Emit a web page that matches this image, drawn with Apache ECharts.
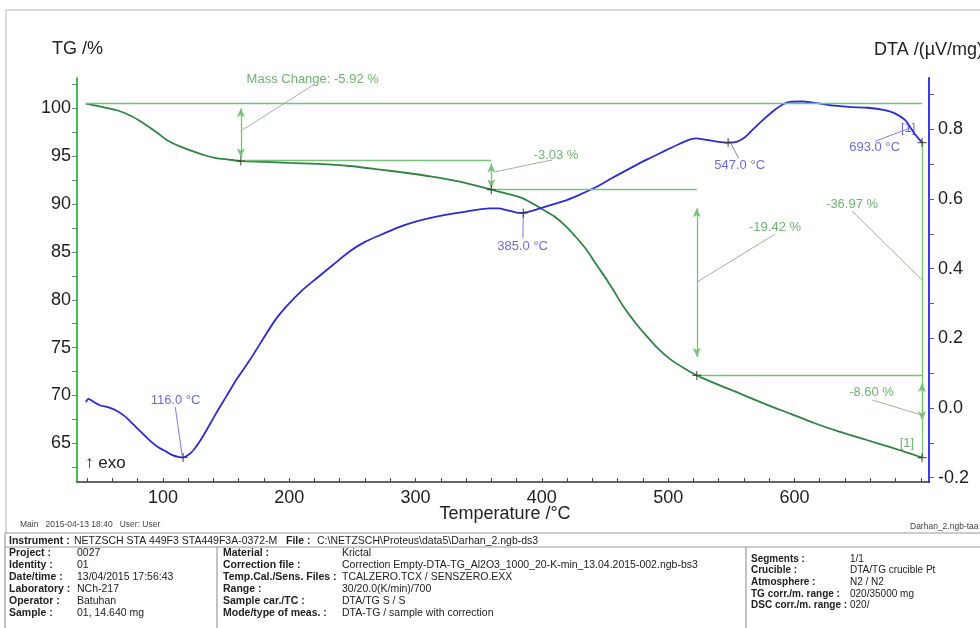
<!DOCTYPE html>
<html><head><meta charset="utf-8">
<script src="https://cdn.jsdelivr.net/npm/echarts@6/dist/echarts.min.js"></script>
<style>html,body{margin:0;padding:0;background:#fff}#c{width:980px;height:628px}</style>
</head><body><div id="c"></div>
<script>
// ---------- data ----------
const tgTemps = [39,50,63.6,75,84,95,103,114,124,133,142,152,161.7,180,200,230,250,272,290,311.6,335,360,372,385,398.6,410,419.7,428,435.5,443,451.4,458,464.6,474,483,492,501.6,512,522.7,540,557,577,596.6,616,636,656,675.8,690,701];
const tgValues = [100.5,100.2,99.8,99.2,98.5,97.5,96.7,96.0,95.5,95.1,94.8,94.65,94.5,94.42,94.3,94.15,93.95,93.6,93.3,92.9,92.35,91.5,91.1,90.6,89.6,88.7,87.6,86.4,85.2,83.7,82.1,80.7,79.3,77.6,76.2,74.9,73.8,72.9,72.1,71.1,70.2,69.1,68.1,67.1,66.2,65.4,64.6,64.0,63.5];
const dtaTemps = [39,41,45,50,57,63,70,76,83,89.5,96,103,108,113,116,120,124,129,134.5,142,150,159,168.7,182,190,197.8,210,221.5,235,248,260,271.7,287.5,298,311,324.6,340,359,366,372,380,385.3,392,398.6,410,419.7,431,443.5,456,469.8,483,496,507,517.4,523,528,538.6,547,553,561,568,576,584,590,596,605,618,631.5,645,658,671.5,679.5,687.5,691.5,695.5,698,701];
const dtaValues = [0.017,0.026,0.018,0.008,0.002,-0.007,-0.024,-0.045,-0.07,-0.093,-0.112,-0.126,-0.136,-0.141,-0.142,-0.135,-0.122,-0.097,-0.064,-0.016,0.032,0.086,0.137,0.214,0.258,0.292,0.337,0.372,0.412,0.45,0.477,0.496,0.52,0.533,0.545,0.555,0.564,0.573,0.573,0.568,0.561,0.56,0.566,0.573,0.586,0.597,0.614,0.635,0.661,0.688,0.713,0.736,0.755,0.771,0.774,0.771,0.765,0.762,0.763,0.778,0.803,0.83,0.855,0.87,0.879,0.880,0.875,0.868,0.864,0.862,0.855,0.846,0.827,0.807,0.785,0.775,0.762];

const xTickLabels = [100,200,300,400,500,600];
const xMinorTicks = [40,60,80,100,120,140,160,180,200,220,240,260,280,300,320,340,360,380,400,420,440,460,480,500,520,540,560,580,600,620,640,660,680,700];
const tgTickLabels = [65,70,75,80,85,90,95,100];
const tgMinorTicks = [62.5,65,67.5,70,72.5,75,77.5,80,82.5,85,87.5,90,92.5,95,97.5,100,102.5];
const dtaTickLabels = [-0.2,0,0.2,0.4,0.6,0.8];
const dtaMinorTicks = [-0.2,-0.1,0,0.1,0.2,0.3,0.4,0.5,0.6,0.7,0.8,0.9];

// mass-change steps: [temperature, tg]
const stepPoints = [[161.7,94.5],[360,91.5],[522.7,72.1],[701,63.5]];
const baseLines = [[[39,100.5],[701,100.5]],[[161.7,94.55],[360,94.55]],[[360,91.54],[522.7,91.54]],[[522.7,72.1],[701,72.1]]];
const stepArrows = [[[161.7,100.0],[161.7,94.9]],[[360,94.25],[360,91.65]],[[522.7,89.56],[522.7,74.04]],[[701,71.3],[701,67.4]]];
const plainVerticals = [[[701,96.6],[701,63.5]]];
const tgLeaders = [[[161.7,97.63],[220.2,102.54]],[[362,93.34],[408,94.6]],[[523.1,81.88],[584.7,86.86]],[[645.6,89.27],[701,82.06]],[[661.6,69.52],[701,67.95]]];
const tgLabels = [
  {name:'Mass Change: -5.92 %', value:[218.6,103.0]},
  {name:'-3.03 %', value:[411.2,95.12]},
  {name:'-19.42 %', value:[584.6,87.6]},
  {name:'-36.97 %', value:[645.6,90.0]},
  {name:'-8.60 %', value:[661,70.28]},
  {name:'[1]', value:[689,65.0]}
];
// DTA peaks
const peakPoints = [[116,-0.142],[385.3,0.56],[547.5,0.762],[701,0.762]];
const dtaLeaders = [[[109.8,0.003],[115.4,-0.141]],[[385,0.488],[385.3,0.56]],[[555.7,0.718],[548.7,0.766]],[[664,0.766],[691.7,0.804]]];
const dtaLabels = [
  {name:'116.0 °C', value:[110,0.022]},
  {name:'385.0 °C', value:[384.8,0.465]},
  {name:'547.0 °C', value:[556.6,0.697]},
  {name:'693.0 °C', value:[663.5,0.747]},
  {name:'[1]', value:[690,0.803]}
];

// footer table
const col1 = [['Project :','0027'],['Identity :','01'],['Date/time :','13/04/2015 17:56:43'],['Laboratory :','NCh-217'],['Operator :','Batuhan'],['Sample :','01, 14.640 mg']];
const col2 = [['Material :','Krictal'],['Correction file :','Correction Empty-DTA-TG_Al2O3_1000_20-K-min_13.04.2015-002.ngb-bs3'],['Temp.Cal./Sens. Files :','TCALZERO.TCX / SENSZERO.EXX'],['Range :','30/20.0(K/min)/700'],['Sample car./TC :','DTA/TG S / S'],['Mode/type of meas. :','DTA-TG / sample with correction']];
const col3 = [['Segments :','1/1'],['Crucible :','DTA/TG crucible Pt'],['Atmosphere :','N2 / N2'],['TG corr./m. range :','020/35000 mg'],['DSC corr./m. range :','020/']];

// ---------- chart ----------
const FF = '"Liberation Sans", Arial, sans-serif';
const zip = (a,b) => a.map((v,i)=>[v,b[i]]);
const seg = (pairs, style, sym) => pairs.map(p => [
  {coord:p[0], symbol: sym||'none', symbolSize:[6,9], lineStyle: style},
  {coord:p[1], symbol: sym||'none', symbolSize:[6,9], lineStyle: style}
]);
const annLine = {color:'#79c279', width:1.3, type:'solid'};
const leadG = {color:'#9ab89a', width:1, type:'solid'};
const leadB = {color:'#7a7ae6', width:1, type:'solid'};
const plus = 'path://M4,0h1.2v4h4v1.2h-4v4h-1.2v-4h-4v-1.2h4z';

const graphics = [];
function txt(x,y,t,font,fill,align,va){graphics.push({type:'text',silent:true,style:{x:x,y:y,text:t,font:font,fill:fill||'#222',align:align||'left',verticalAlign:va||'middle'}});}
function ln(x1,y1,x2,y2,c,w){graphics.push({type:'line',silent:true,shape:{x1:x1,y1:y1,x2:x2,y2:y2},style:{stroke:c||'#888',lineWidth:w||1}});}

// frame
ln(6,10,980,10,'#cfcfcf',1.5); ln(6,10,6,533,'#cfcfcf',1.5);
txt(52,49,'TG /%','18px '+FF);
txt(874,50,'DTA /(µV/mg)','18px '+FF);
txt(505,514,'Temperature /°C','18px '+FF,'#222','center');
txt(85,463,'↑ exo','17px '+FF);
txt(20,525,'Main   2015-04-13 18:40   User: User','8.5px '+FF,'#444');
txt(910,527,'Darhan_2.ngb-taa','8.5px '+FF,'#444');
// table
ln(5,533,980,533,'#9a9a9a',1.2); ln(5,547,980,547,'#9a9a9a',1.2); ln(5,533,5,628,'#9a9a9a',1.2);
ln(217,547,217,628,'#9a9a9a',1.2); ln(746,547,746,628,'#9a9a9a',1.2);
const BF = 'bold 10.5px '+FF, NF = '10.5px '+FF;
txt(9,541,'Instrument :',BF); txt(74,541,'NETZSCH STA 449F3 STA449F3A-0372-M',NF);
txt(286,541,'File :',BF); txt(317,541,'C:\\NETZSCH\\Proteus\\data5\\Darhan_2.ngb-ds3',NF);
col1.forEach((r,i)=>{txt(9,553+i*12,r[0],BF); txt(77,553+i*12,r[1],NF);});
col2.forEach((r,i)=>{txt(223,553+i*12,r[0],BF); txt(342,553+i*12,r[1],NF);});
col3.forEach((r,i)=>{txt(751,559+i*11.6,r[0],'bold 10px '+FF); txt(850,559+i*11.6,r[1],'10px '+FF);});

const chart = echarts.init(document.getElementById('c'), null, {renderer:'canvas'});
chart.setOption({
  animation:false,
  backgroundColor:'#fff',
  grid:{left:77, right:51, top:78, bottom:146, containLabel:false},
  xAxis:{type:'value', min:32, max:706.5,
    axisLine:{show:true, onZero:false, lineStyle:{color:'#333', width:1.5}},
    axisTick:{show:true, inside:true, length:4, customValues:xMinorTicks, lineStyle:{color:'#444'}},
    axisLabel:{customValues:xTickLabels, fontSize:18, fontFamily:FF, color:'#222', margin:7},
    splitLine:{show:false}},
  yAxis:[
    {type:'value', min:60.96, max:103.17, position:'left',
     axisLine:{show:true, lineStyle:{color:'#3fbf50', width:2}},
     axisTick:{show:true, inside:false, length:5, customValues:tgMinorTicks, lineStyle:{color:'#6a8a6a'}},
     axisLabel:{customValues:tgTickLabels, fontSize:18, fontFamily:FF, color:'#222', margin:6},
     splitLine:{show:false}},
    {type:'value', min:-0.2124, max:0.9474, position:'right',
     axisLine:{show:true, lineStyle:{color:'#3a3af0', width:2}},
     axisTick:{show:true, inside:false, length:5, customValues:dtaMinorTicks, lineStyle:{color:'#5a5ab0'}},
     axisLabel:{customValues:dtaTickLabels, fontSize:18, fontFamily:FF, color:'#222', margin:9, formatter:v=>v.toFixed(1)},
     splitLine:{show:false}}
  ],
  series:[
    {type:'line', name:'TG', xAxisIndex:0, yAxisIndex:0, data:zip(tgTemps,tgValues), showSymbol:false, smooth:0.25,
     lineStyle:{color:'#2e8540', width:1.8}, z:3,
     markLine:{silent:true, animation:false, label:{show:false}, symbol:'none',
       data:[].concat(seg(baseLines,annLine), seg(plainVerticals,annLine), seg(stepArrows,annLine,'arrow'), seg(tgLeaders,leadG))}},
    {type:'line', name:'DTA', xAxisIndex:0, yAxisIndex:1, data:zip(dtaTemps,dtaValues), showSymbol:false, smooth:0.25,
     lineStyle:{color:'#2a2ad8', width:1.8}, z:4,
     markLine:{silent:true, animation:false, label:{show:false}, symbol:'none', data:seg(dtaLeaders,leadB)}},
    {type:'scatter', yAxisIndex:0, data:stepPoints, symbol:plus, symbolSize:9, itemStyle:{color:'#333'}, silent:true, z:5},
    {type:'scatter', yAxisIndex:1, data:peakPoints, symbol:plus, symbolSize:9, itemStyle:{color:'#333'}, silent:true, z:5},
    {type:'scatter', yAxisIndex:0, data:tgLabels, symbolSize:0, silent:true, clip:false,
     label:{show:true, formatter:'{b}', position:[0,0], align:'center', verticalAlign:'middle', color:'#4aa04a', fontSize:13, fontFamily:FF}},
    {type:'scatter', yAxisIndex:1, data:dtaLabels, symbolSize:0, silent:true, clip:false,
     label:{show:true, formatter:'{b}', position:[0,0], align:'center', verticalAlign:'middle', color:'#4646dc', fontSize:13, fontFamily:FF}}
  ],
  graphic:graphics
});
</script></body></html>
